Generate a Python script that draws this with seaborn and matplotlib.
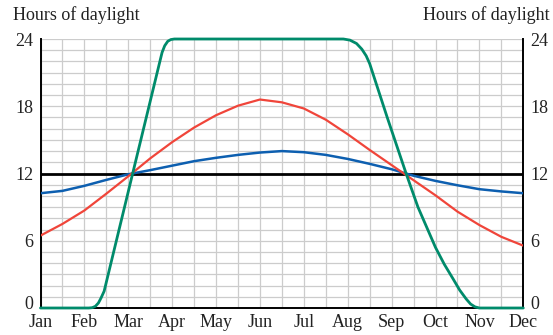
import numpy as np
import pandas as pd
import matplotlib.pyplot as plt
import matplotlib.transforms as mtransforms
import seaborn as sns

months = ["Jan", "Feb", "Mar", "Apr", "May", "Jun",
          "Jul", "Aug", "Sep", "Oct", "Nov", "Dec"]
hour_ticks = [0, 6, 12, 18, 24]

# half-month positions (0 = Jan, 11 = Dec)
half_x = [0, 0.5, 1, 1.5, 2, 2.5, 3, 3.5, 4, 4.5, 5, 5.5,
          6, 6.5, 7, 7.5, 8, 8.5, 9, 9.5, 10, 10.5, 11]

blue_hours = [10.24, 10.45, 10.9, 11.43, 11.93, 12.3, 12.7, 13.1, 13.4, 13.66, 13.87, 14.0,
              13.9, 13.66, 13.3, 12.86, 12.38, 11.8, 11.34, 10.95, 10.6, 10.4, 10.24]

red_hours = [6.46, 7.5, 8.7, 10.2, 11.75, 13.35, 14.8, 16.1, 17.2, 18.05, 18.6, 18.35,
             17.8, 16.8, 15.5, 14.1, 12.75, 11.4, 10.05, 8.6, 7.4, 6.35, 5.56]

green_x = [0, 1.1, 1.18, 1.25, 1.32, 1.38, 1.45, 2.1, 2.72, 2.77, 2.83, 2.9, 2.97, 3.05,
           6.9, 7.05, 7.2, 7.32, 7.42, 7.5, 7.9, 8.33, 8.6, 9.0, 9.2, 9.4, 9.55,
           9.7, 9.8, 9.9, 10.0, 11]
green_hours = [0, 0, 0.03, 0.15, 0.45, 0.9, 1.5, 12, 22, 22.8, 23.4, 23.8, 23.95, 24,
               24, 23.9, 23.6, 23.1, 22.5, 21.8, 17, 12, 9.0, 5.4, 3.9, 2.6, 1.6,
               0.8, 0.35, 0.1, 0, 0]

sns.set_theme(style="white")
plt.rcParams['font.family'] = ['Liberation Serif', 'DejaVu Serif']

fig = plt.figure(figsize=(5.53, 3.35), dpi=100)
ax = fig.add_axes([40.5 / 553, 1 - 308 / 335, (523.3 - 40.5) / 553, (308 - 39) / 335])

ax.axhline(12, color="black", lw=2.0, zorder=3)
sns.lineplot(x=half_x, y=blue_hours, color="#0d5fb0", lw=1.8, ax=ax, zorder=4)
sns.lineplot(x=half_x, y=red_hours, color="#f0453a", lw=1.6, ax=ax, zorder=4)
sns.lineplot(x=green_x, y=green_hours, color="#008b6b", lw=2.0, ax=ax, zorder=5,
             clip_on=False)

ax.set_xlim(0, 11)
ax.set_ylim(0, 24)
ax.set_xticks(range(12))
ax.set_xticklabels(months)
ax.set_xticks(np.arange(0.5, 11, 1), minor=True)
ax.set_yticks(hour_ticks)
ax.set_yticks(range(25), minor=True)
ax.grid(True, which="both", color="#cccccc", lw=0.9)
ax.set_axisbelow(True)

ax.tick_params(axis="both", which="both", length=0, labelsize=13, colors="#222222")
ax.tick_params(axis="y", labelright=True, pad=5)
ax.tick_params(axis="x", pad=4)

# nudge the two "0" labels up a little so they sit clear of Jan / Dec
shift = mtransforms.ScaledTranslation(0, 4 / 72, fig.dpi_scale_trans)
zero_tick = ax.yaxis.get_major_ticks()[0]
for lab in (zero_tick.label1, zero_tick.label2):
    lab.set_transform(lab.get_transform() + shift)

for side in ["left", "right", "bottom"]:
    ax.spines[side].set_visible(True)
    ax.spines[side].set_color("black")
    ax.spines[side].set_linewidth(1.4)
ax.spines["top"].set_visible(False)

fig.text(12.7 / 553, 1 - 19.5 / 335, "Hours of daylight", fontsize=13,
         ha="left", va="baseline", color="#222222")
fig.text(550 / 553, 1 - 19.5 / 335, "Hours of daylight", fontsize=13,
         ha="right", va="baseline", color="#222222")

fig.savefig("out.png", dpi=100)
